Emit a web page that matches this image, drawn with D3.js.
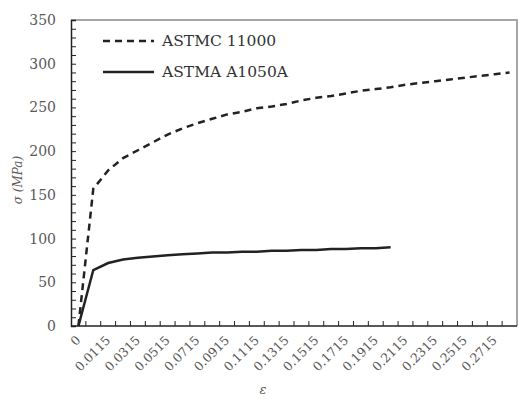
<!DOCTYPE html>
<html>
<head>
<meta charset="utf-8">
<script src="https://cdn.jsdelivr.net/npm/d3@7"></script>
<style>
  body { margin: 0; background: #fff; }
  text { font-family: "DejaVu Serif", serif; }
</style>
</head>
<body>
<div id="root"></div>
<script>
// strain categories (Excel-style category axis)
const strainCats = ["0", "0.0015", "0.0115", "0.0215", "0.0315", "0.0415", "0.0515", "0.0615",
  "0.0715", "0.0815", "0.0915", "0.1015", "0.1115", "0.1215", "0.1315", "0.1415", "0.1515",
  "0.1615", "0.1715", "0.1815", "0.1915", "0.2015", "0.2115", "0.2215", "0.2315", "0.2415",
  "0.2515", "0.2615", "0.2715", "0.2815"];

const seriesNames = ["ASTMC 11000", "ASTMA A1050A"];

const stressC11000 = [0, 157, 178, 192, 201, 210, 219, 226, 232, 237, 242, 245, 249, 251, 254,
  258, 261, 263, 266, 269, 271, 273, 276, 278, 280, 282, 284, 286, 288, 290];

const stressA1050A = [0, 64, 72, 76, 78, 79.5, 81, 82, 83, 84, 84, 85, 85, 86, 86, 87, 87, 88,
  88, 89, 89, 90];

const yTicks = [0, 50, 100, 150, 200, 250, 300, 350];

const width = 519;
const height = 399;
const plotLeft = 71, plotRight = 517, plotTop = 20, plotBottom = 326;
const ink = "#222";
const labelColor = "#595959";

const svg = d3.select("#root")
  .append("svg")
    .attr("width", width)
    .attr("height", height);

const xScale = d3.scalePoint()
  .domain(strainCats)
  .range([plotLeft, plotRight])
  .padding(0.5);

const yScale = d3.scaleLinear()
  .domain([0, 350])
  .range([plotBottom, plotTop]);

const step = xScale.step();

// frame
svg.append("path")
  .attr("d", `M${plotLeft},${plotTop}H${plotRight}V${plotBottom}`)
  .attr("fill", "none")
  .attr("stroke", "#a6a6a6")
  .attr("stroke-width", 2);

// y axis, minor ticks every 10 inside
const yAxis = svg.append("g")
  .attr("transform", `translate(${plotLeft},0)`)
  .call(d3.axisRight(yScale).tickValues(d3.range(0, 351, 10)).tickSize(5).tickFormat(""));
yAxis.select(".domain").attr("stroke", ink).attr("stroke-width", 1.5);
yAxis.selectAll(".tick line").attr("stroke", ink);

svg.append("g")
  .attr("transform", `translate(${plotLeft},0)`)
  .call(d3.axisLeft(yScale).tickValues(yTicks).tickSize(0).tickPadding(15))
  .call(g => g.select(".domain").remove())
  .selectAll("text")
    .attr("font-family", "DejaVu Serif, serif")
    .attr("font-size", 14)
    .attr("fill", labelColor);

// x axis: ticks between categories, labels on every other category
const xAxisG = svg.append("g").attr("transform", `translate(0,${plotBottom})`);
xAxisG.append("line")
  .attr("x1", plotLeft).attr("x2", plotRight)
  .attr("stroke", ink).attr("stroke-width", 1.5);
xAxisG.selectAll(".xt")
  .data(strainCats.slice(1))
  .join("line")
    .attr("x1", d => xScale(d) - step / 2)
    .attr("x2", d => xScale(d) - step / 2)
    .attr("y1", 0).attr("y2", -5)
    .attr("stroke", ink);

xAxisG.selectAll(".xl")
  .data(strainCats.filter((d, i) => i % 2 === 0))
  .join("text")
    .attr("transform", d => `translate(${xScale(d) + 3},${15}) rotate(-45)`)
    .attr("text-anchor", "end")
    .attr("font-size", 12.5)
    .attr("fill", labelColor)
    .text(d => d);

// lines
const lineCreator = d3.line()
  .x((d, i) => xScale(strainCats[i]))
  .y(d => yScale(d));

svg.append("path")
  .attr("d", lineCreator(stressC11000))
  .attr("fill", "none")
  .attr("stroke", ink)
  .attr("stroke-width", 2.5)
  .attr("stroke-dasharray", "7,5");

svg.append("path")
  .attr("d", lineCreator(stressA1050A))
  .attr("fill", "none")
  .attr("stroke", ink)
  .attr("stroke-width", 2.5);

// legend
const legend = svg.append("g");
seriesNames.forEach((name, i) => {
  const y = 41 + i * 31;
  legend.append("line")
    .attr("x1", 103).attr("x2", 154)
    .attr("y1", y).attr("y2", y)
    .attr("stroke", ink)
    .attr("stroke-width", 2.5)
    .attr("stroke-dasharray", i === 0 ? "7,5" : null);
  legend.append("text")
    .attr("x", 162).attr("y", y + 5)
    .attr("font-size", 15.5)
    .attr("fill", "#333")
    .text(name);
});

// axis titles
svg.append("text")
  .text("σ (MPa)")
  .attr("transform", `translate(22,180) rotate(-90)`)
  .attr("text-anchor", "middle")
  .attr("font-size", 12)
  .attr("font-style", "italic")
  .attr("fill", labelColor);

svg.append("text")
  .text("ε")
  .attr("x", 263).attr("y", 394)
  .attr("text-anchor", "middle")
  .attr("font-size", 13)
  .attr("font-style", "italic")
  .attr("fill", labelColor);
</script>
</body>
</html>
